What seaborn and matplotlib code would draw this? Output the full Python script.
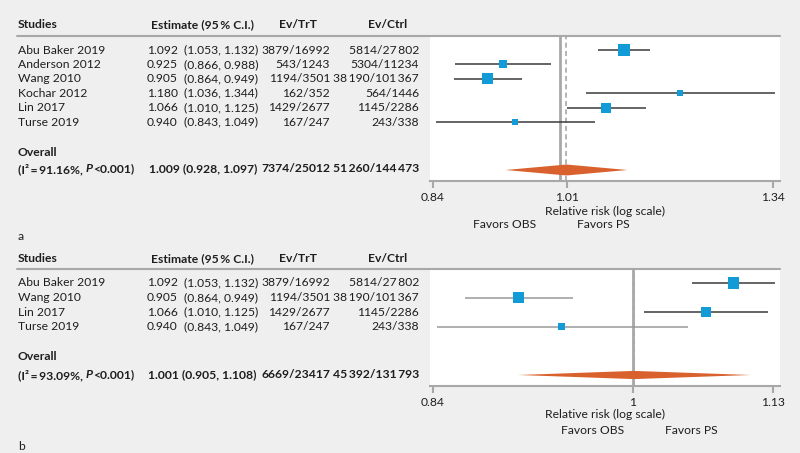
import matplotlib
matplotlib.use("Agg")
import matplotlib.pyplot as plt
import seaborn as sns
import numpy as np
import pandas as pd
from matplotlib.lines import Line2D

# ---------------- data ----------------
studies_a = ["Abu Baker 2019", "Anderson 2012", "Wang 2010", "Kochar 2012", "Lin 2017", "Turse 2019"]
est_a = [1.092, 0.925, 0.905, 1.180, 1.066, 0.940]
lo_a = [1.053, 0.866, 0.864, 1.036, 1.010, 0.843]
hi_a = [1.132, 0.988, 0.949, 1.344, 1.125, 1.049]
ev_trt_a = ["3879/16992", "543/1243", "1194/3501", "162/352", "1429/2677", "167/247"]
ev_ctrl_a = ["5814/27\u2009802", "5304/11234", "38\u2009190/101\u2009367", "564/1446", "1145/2286", "243/338"]
overall_a = [1.009, 0.928, 1.097]
overall_ev_a = ["7374/25012", "51\u2009260/144\u2009473"]
het_a = ["91.16%", "0.001"]
ticks_a = [0.84, 1.01, 1.34]

studies_b = ["Abu Baker 2019", "Wang 2010", "Lin 2017", "Turse 2019"]
est_b = [1.092, 0.905, 1.066, 0.940]
lo_b = [1.053, 0.864, 1.010, 0.843]
hi_b = [1.132, 0.949, 1.125, 1.049]
ev_trt_b = ["3879/16992", "1194/3501", "1429/2677", "167/247"]
ev_ctrl_b = ["5814/27\u2009802", "38\u2009190/101\u2009367", "1145/2286", "243/338"]
overall_b = [1.001, 0.905, 1.108]
overall_ev_b = ["6669/23417", "45\u2009392/131\u2009793"]
het_b = ["93.09%", "0.001"]
ticks_b = [0.84, 1, 1.13]

# ---------------- style ----------------
msize_a = [63, 33, 63, 19, 52, 19]
msize_b = [63, 55, 52, 25]
cicol_a = ["#3a3a3a"] * 6
cicol_b = ["#3a3a3a", "#9a9a9a", "#3a3a3a", "#9a9a9a"]
BLUE = "#129bd6"
ORANGE = "#d9612d"
GRAY = "#a8a8a8"
TXT = "#1e1e1e"
BG = "#efefef"
FS = 8.7

sns.set_theme(style="white")
plt.rcParams["font.family"] = ["Lato", "DejaVu Sans"]

W, H = 800, 453
fig = plt.figure(figsize=(W / 100, H / 100), dpi=100, facecolor=BG)
renderer = fig.canvas.get_renderer()


def fx(px):
    return px / W


def fy(py):
    return 1 - py / H


def txt(x, y, s, ha="left", bold=False, style="normal"):
    return fig.text(fx(x), fy(y), s, ha=ha, va="center", fontsize=FS, color=TXT,
                    fontweight="bold" if bold else "normal", fontstyle=style)


def panel(top, bottom, row0, step, hdr_y, ov_y, het_y, dia_y, dia_h, rr_y, fav_y,
          obs_x, ps_x, lab_y, lab, studies, est, lo, hi, evt, evc, overall, ovev,
          het, ticks, msize, cicol, xlim):
    ax = fig.add_axes([fx(430), fy(bottom), fx(780) - fx(430), (bottom - top) / H])
    ax.set_facecolor("white")
    rows = np.arange(len(studies))
    df = pd.DataFrame({"study": studies, "est": est, "lo": lo, "hi": hi, "row": rows})
    ax.hlines(df["row"], df["lo"], df["hi"], colors=cicol, lw=1.1, zorder=2)
    sns.scatterplot(data=df, x="est", y="row", marker="s", s=msize, color=BLUE,
                    edgecolor="none", linewidth=0, ax=ax, zorder=3, legend=False)
    dy = (dia_y - row0) / step
    ax.fill([overall[1], overall[0], overall[2], overall[0]],
            [dy, dy - dia_h, dy, dy + dia_h], color=ORANGE, lw=0, zorder=3)
    ax.axvline(1, color=GRAY, lw=2.0, zorder=1)
    ax.axvline(overall[0], color=GRAY, lw=1.2, ls=(0, (3, 2)), zorder=1)
    ax.set_xscale("log")
    ax.set_xlim(*xlim)
    ax.set_ylim((bottom - row0) / step, (top - row0) / step)
    ax.set_xticks(ticks)
    ax.set_xticklabels([f"{t:g}" for t in ticks])
    ax.xaxis.set_minor_locator(matplotlib.ticker.NullLocator())
    ax.set_yticks([])
    ax.set_xlabel("")
    ax.set_ylabel("")
    for s in ["left", "right", "top"]:
        ax.spines[s].set_visible(False)
    ax.spines["bottom"].set_color(GRAY)
    ax.spines["bottom"].set_linewidth(1.5)
    ax.tick_params(axis="x", bottom=True, length=5, width=1.5, color=GRAY,
                   labelsize=FS, labelcolor=TXT, pad=3)
    ax.grid(False)

    # header line
    fig.add_artist(Line2D([fx(17), fx(780)], [fy(top), fy(top)], color=GRAY, lw=1.5))
    # header
    txt(18, hdr_y, "Studies", bold=True)
    txt(151, hdr_y, "Estimate (95\u2009% C.I.)", bold=True)
    txt(298, hdr_y, "Ev/TrT", ha="center", bold=True)
    txt(388, hdr_y, "Ev/Ctrl", ha="center", bold=True)
    for i in range(len(studies)):
        y = row0 + step * i
        txt(18, y, studies[i])
        txt(147, y, f"{est[i]:.3f}")
        txt(258, y, f"({lo[i]:.3f}, {hi[i]:.3f})", ha="right")
        txt(330, y, evt[i], ha="right")
        txt(419, y, evc[i], ha="right")
    txt(18, ov_y, "Overall", bold=True)
    # heterogeneity label with italic P
    x = 18
    for s, st in [(f"(I\u00b2\u2009=\u2009{het[0]},", "normal"), ("P", "italic"),
                  (f"<{het[1]})", "normal")]:
        t = txt(x, het_y, s, bold=True, style=st)
        x += t.get_window_extent(renderer).width + (3 if s.endswith(",") else 0.5)
    txt(257, het_y, f"{overall[0]:.3f} ({overall[1]:.3f}, {overall[2]:.3f})", ha="right", bold=True)
    txt(330, het_y, ovev[0], ha="right", bold=True)
    txt(419, het_y, ovev[1], ha="right", bold=True)

    txt(605, rr_y, "Relative risk (log scale)", ha="center")
    txt(obs_x, fav_y, "Favors OBS", ha="center")
    txt(ps_x, fav_y, "Favors PS", ha="center")
    txt(18, lab_y, lab)
    return ax


panel(36, 181, 50, 14.4, 25, 153, 169, 170, 0.38, 211, 225, 505, 603, 237, "a",
      studies_a, est_a, lo_a, hi_a, ev_trt_a, ev_ctrl_a, overall_a, overall_ev_a,
      het_a, ticks_a, msize_a, cicol_a, (0.8365, 1.353))
panel(269, 386, 283, 14.6, 259, 357, 375, 375, 0.28, 414, 430, 593, 691, 447, "b",
      studies_b, est_b, lo_b, hi_b, ev_trt_b, ev_ctrl_b, overall_b, overall_ev_b,
      het_b, ticks_b, msize_b, cicol_b, (0.8378, 1.137))

fig.savefig("out.png", dpi=100, facecolor=BG)
